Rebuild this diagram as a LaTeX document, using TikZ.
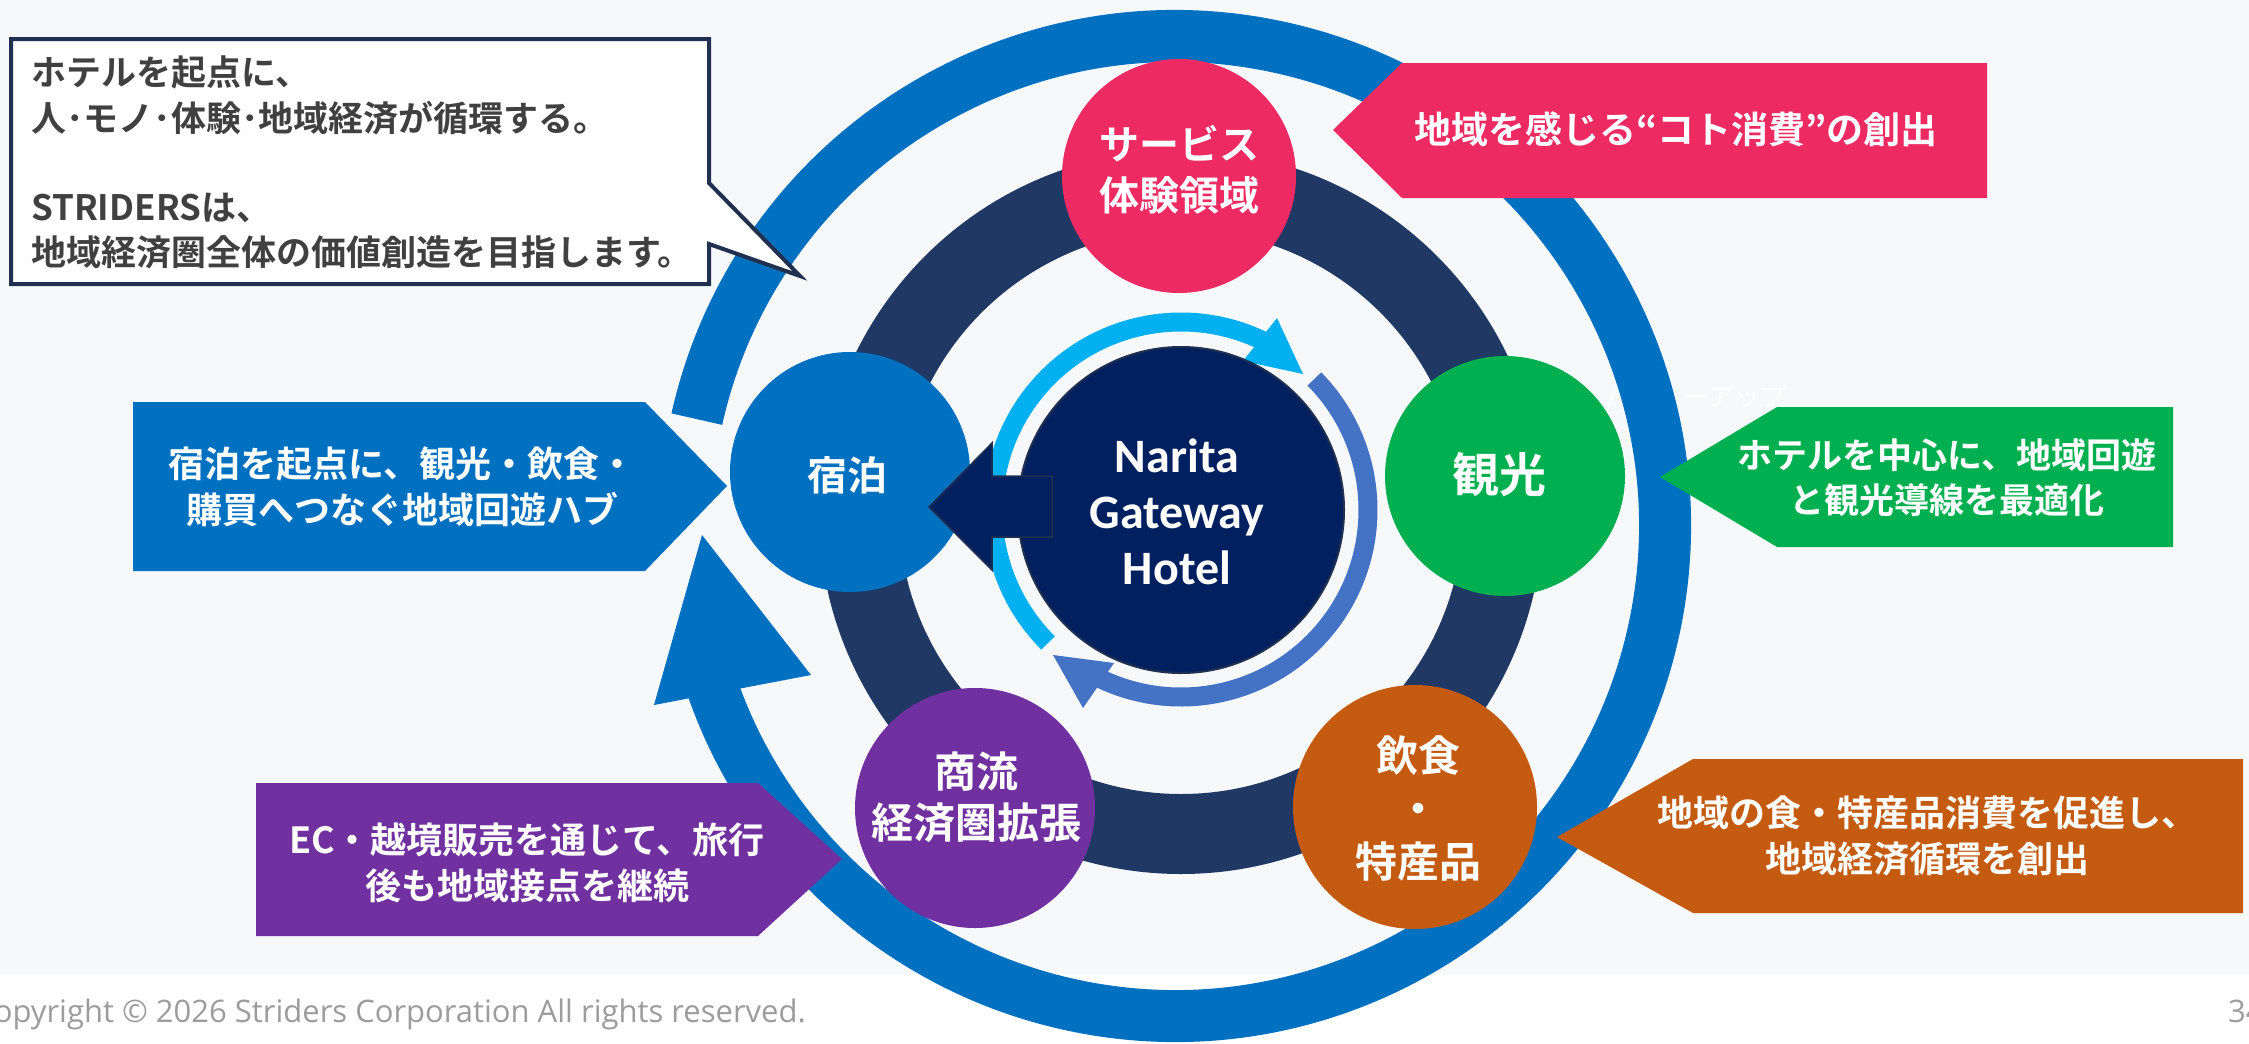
\documentclass[tikz,border=0pt]{standalone}
\usepackage{fontspec}
\newfontfamily\jpb{Noto Sans CJK JP Bold}
\newfontfamily\jpr{Noto Sans CJK JP}
\newfontfamily\calb{Carlito}
\newfontfamily\ftr{Open Sans}
\definecolor{bgc}{HTML}{F7F8FA}
\definecolor{ringblue}{HTML}{0070C0}
\definecolor{navyring}{HTML}{203864}
\definecolor{hotelnavy}{HTML}{002060}
\definecolor{cyanarc}{HTML}{00B0F0}
\definecolor{bluearc}{HTML}{4472C4}
\definecolor{pinkc}{HTML}{EE2A63}
\definecolor{greenc}{HTML}{00B050}
\definecolor{orangec}{HTML}{C55A11}
\definecolor{purplec}{HTML}{7030A0}
\definecolor{callborder}{HTML}{1F3050}
\definecolor{calltext}{HTML}{404040}
\definecolor{footgray}{HTML}{9C9C9C}
\begin{document}
\begin{tikzpicture}[x=1pt,y=-1pt,
  bubble/.style={circle, inner sep=0pt, minimum size=240pt},
  lbl/.style={text=white, align=center, inner sep=0pt},
  ctext/.style={text=calltext, anchor=base west, inner sep=0pt, font=\jpb\fontsize{35}{40}\selectfont},
  tagtext/.style={lbl, font=\jpb\fontsize{36}{46}\selectfont},
  bubtext/.style={lbl, font=\jpb\fontsize{42}{52}\selectfont},
]
\useasboundingbox (0,0) rectangle (2249,1044);
% background
\fill[bgc] (0,0) rectangle (2249,974);
\fill[white] (0,974) rectangle (2249,1044);
% faint hidden text
\node[text=white, anchor=base east, inner sep=0pt, font=\jpr\fontsize{26}{26}\selectfont] (faint) at (1787,406) {バリューアップ};
% navy ring
\draw[navyring, line width=80pt] (1181,512) circle[radius=322];
% outer blue circular arrow
\draw[ringblue, line width=52pt] (1175,526) ++(-167.4:490) arc[start angle=-167.4, end angle=164, radius=490];
\fill[ringblue] (654,705) -- (702,535) -- (811,675) -- cycle;
% inner arrows
\draw[cyanarc, line width=19pt] (1181,510) ++(135:188) arc[start angle=135, end angle=299, radius=188];
\fill[cyanarc] (1243,361) -- (1303,374) -- (1277,318) -- cycle;
\draw[bluearc, line width=19pt] (1181,510) ++(-44.5:187) arc[start angle=-44.5, end angle=118, radius=187];
\fill[bluearc] (1083,708) -- (1053,655) -- (1114,663) -- cycle;
% hotel
\node[circle, fill=hotelnavy, draw=callborder, line width=2pt, minimum size=326pt, inner sep=0pt] (hotel) at (1181,510) {};
% five circles
\node[bubble, fill=pinkc, minimum size=234pt] (svc) at (1179,176) {};
\node[bubble, fill=ringblue] (stay) at (850,472) {};
\node[bubble, fill=greenc] (kanko) at (1505,476) {};
\node[bubble, fill=orangec, minimum size=244pt] (food) at (1415,807) {};
\node[bubble, fill=purplec] (comm) at (975,808) {};
% dark arrow hotel -> stay
\filldraw[fill=hotelnavy, draw=callborder, line width=1.5pt] (929,507) -- (992,443) -- (992,476) -- (1052,476) -- (1052,537) -- (992,537) -- (992,570) -- cycle;
% circle texts
\node[bubtext, font=\jpb\fontsize{40}{51}\selectfont] (svct) at (1179,170) {サービス\\体験領域};
\node[bubtext, font=\jpb\fontsize{40}{51}\selectfont] (stayt) at (847,475) {宿泊};
\node[bubtext, font=\jpb\fontsize{47}{51}\selectfont] (kankot) at (1499,475) {観光};
\node[bubtext, font=\jpb\fontsize{42}{53}\selectfont] (foodt) at (1418,808) {飲食\\・\\特産品};
\node[bubtext, font=\jpb\fontsize{42}{51}\selectfont] (commt) at (976,797) {商流\\経済圏拡張};
\node[lbl, font=\calb\bfseries\fontsize{48}{56}\selectfont] (hotelt) at (1177,512) {Narita\\Gateway\\Hotel};
% tag pentagons
\fill[ringblue] (133,402) -- (645,402) -- (727,486) -- (645,571) -- (133,571) -- cycle;
\node[tagtext] (stayl) at (402,487) {宿泊を起点に、観光・飲食・\\購買へつなぐ地域回遊ハブ};
\fill[pinkc] (1333,130) -- (1402,63) -- (1987,63) -- (1987,198) -- (1402,198) -- cycle;
\node[lbl, font=\jpb\fontsize{37}{46}\selectfont] (svcl) at (1676,129) {地域を感じる“コト消費”の創出};
\fill[greenc] (1660,477) -- (1777,407) -- (2173,407) -- (2173,547) -- (1777,547) -- cycle;
\node[lbl, font=\jpb\fontsize{35}{45}\selectfont] (kankol) at (1947,478) {ホテルを中心に、地域回遊\\と観光導線を最適化};
\fill[orangec] (1557,837) -- (1693,759) -- (2243,759) -- (2243,913) -- (1693,913) -- cycle;
\node[tagtext] (foodl) at (1927,836) {地域の食・特産品消費を促進し、\\地域経済循環を創出};
\fill[purplec] (256,783) -- (758,783) -- (842,859) -- (758,936) -- (256,936) -- cycle;
\node[tagtext] (comml) at (527,863) {EC・越境販売を通じて、旅行\\後も地域接点を継続};
% callout
\filldraw[fill=white, draw=callborder, line width=4pt, line join=miter] (11,39) -- (709,39) -- (709,183) -- (800,276) -- (709,244) -- (709,284) -- (11,284) -- cycle;
\node[ctext] (c1) at (31,85) {ホテルを起点に、};
\node[ctext] (c2) at (31,131) {人･モノ･体験･地域経済が循環する。};
\node[ctext] (c3) at (31,220) {STRIDERSは、};
\node[ctext] (c4) at (31,265) {地域経済圏全体の価値創造を目指します。};
% footer
\node[text=footgray, anchor=base east, inner sep=0pt, font=\ftr\fontsize{31}{31}\selectfont] (copy) at (806,1022) {Copyright © 2026 Striders Corporation All rights reserved.};
\node[text=footgray, anchor=base west, inner sep=0pt, font=\ftr\fontsize{31}{31}\selectfont] (pg) at (2228,1022) {34};
\end{tikzpicture}
\end{document}
